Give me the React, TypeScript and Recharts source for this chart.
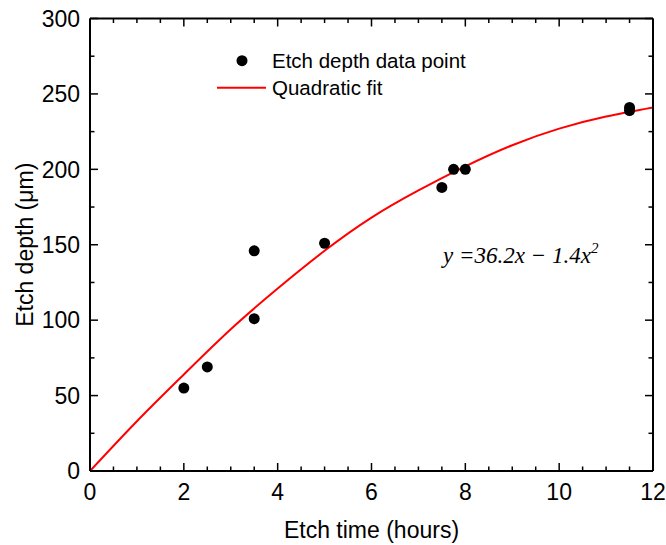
import React from 'react';
import { ComposedChart, Scatter, Line, XAxis, YAxis, Legend } from 'recharts';

// measured points
const etchTime = [2, 2.5, 3.5, 3.5, 5, 7.5, 7.75, 8, 11.5, 11.5];
const etchDepth = [55, 69, 146, 101, 151, 188, 200, 200, 241, 239];

// fit curve at whole hours
const fitTime = [0, 1, 2, 3, 4, 5, 6, 7, 8, 9, 10, 11, 12];
const fitDepth = [0, 33, 64, 94, 121, 146, 168, 186, 202, 216, 227, 235, 241];

const xTicks = [0, 0.5, 1, 1.5, 2, 2.5, 3, 3.5, 4, 4.5, 5, 5.5, 6, 6.5, 7, 7.5, 8, 8.5, 9, 9.5, 10, 10.5, 11, 11.5, 12];
const yTicks = [0, 25, 50, 75, 100, 125, 150, 175, 200, 225, 250, 275, 300];
const xLabels = [0, 2, 4, 6, 8, 10, 12];
const yLabels = [0, 50, 100, 150, 200, 250, 300];

const points = etchTime.map((x, i) => ({ x, y: etchDepth[i] }));
const fit = fitTime.map((x, i) => ({ x, y: fitDepth[i] }));

const FONT = "'Liberation Sans', Arial, sans-serif";

const tickLen = (major: boolean) => (major ? 8 : 4.5);

const BottomTick = ({ x, y, payload }: any) => {
  const major = xLabels.includes(payload.value);
  return (
    <g>
      <line x1={x} y1={y} x2={x} y2={y - tickLen(major)} stroke="#000" strokeWidth={1.5} />
      {major && (
        <text x={x} y={y + 29} textAnchor="middle" fontSize={23} fontFamily={FONT} fill="#000">
          {payload.value}
        </text>
      )}
    </g>
  );
};

const TopTick = ({ x, y, payload }: any) => {
  const major = xLabels.includes(payload.value);
  return <line x1={x} y1={y} x2={x} y2={y + tickLen(major)} stroke="#000" strokeWidth={1.5} />;
};

const LeftTick = ({ x, y, payload }: any) => {
  const major = yLabels.includes(payload.value);
  return (
    <g>
      <line x1={x} y1={y} x2={x + tickLen(major)} y2={y} stroke="#000" strokeWidth={1.5} />
      {major && (
        <text x={x - 10} y={y + 8.3} textAnchor="end" fontSize={23} fontFamily={FONT} fill="#000">
          {payload.value}
        </text>
      )}
    </g>
  );
};

const RightTick = ({ x, y, payload }: any) => {
  const major = yLabels.includes(payload.value);
  return <line x1={x} y1={y} x2={x - tickLen(major)} y2={y} stroke="#000" strokeWidth={1.5} />;
};

const LegendBox = ({ payload }: any) => (
  <svg width={280} height={64} style={{ overflow: 'visible' }}>
    {(payload || [])
      .filter((entry: any) => entry.type !== 'none')
      .map((entry: any, i: number) => {
        const cy = 13.7 + i * 27;
        return (
          <g key={entry.value}>
            {entry.type === 'circle' ? (
              <circle cx={27} cy={cy} r={5.5} fill="#000" />
            ) : (
              <line x1={2} x2={51} y1={cy} y2={cy} stroke="#ff0000" strokeWidth={2} />
            )}
            <text x={57} y={cy + 7.3} fontSize={20.5} fontFamily={FONT} fill="#000">
              {entry.value}
            </text>
          </g>
        );
      })}
  </svg>
);

export default function App() {
  return (
    <div style={{ position: 'absolute', left: 0, top: 0, width: 666, height: 545, background: '#fff' }}>
      <ComposedChart width={666} height={545} margin={{ top: 17.5, right: 12, bottom: 0, left: 20 }}>
        <XAxis
          xAxisId="bottom"
          dataKey="x"
          type="number"
          domain={[0, 12]}
          ticks={xTicks}
          interval={0}
          tickSize={0}
          tickMargin={0}
          tickLine={false}
          tick={BottomTick}
          height={74}
          axisLine={{ stroke: '#000', strokeWidth: 2 }}
          allowDataOverflow
          label={(p: any) => {
            const vb = p.viewBox;
            return (
              <text x={vb.x + vb.width / 2} y={538} textAnchor="middle" fontSize={23} fontFamily={FONT} fill="#000">
                Etch time (hours)
              </text>
            );
          }}
        />
        <XAxis
          xAxisId="top"
          orientation="top"
          dataKey="x"
          type="number"
          domain={[0, 12]}
          ticks={xTicks}
          interval={0}
          tickSize={0}
          tickMargin={0}
          tickLine={false}
          tick={TopTick}
          height={1}
          axisLine={{ stroke: '#000', strokeWidth: 2 }}
          allowDataOverflow
        />
        <YAxis
          yAxisId="left"
          type="number"
          domain={[0, 300]}
          ticks={yTicks}
          interval={0}
          tickSize={0}
          tickMargin={0}
          tickLine={false}
          tick={LeftTick}
          width={70}
          axisLine={{ stroke: '#000', strokeWidth: 2 }}
          allowDataOverflow
          label={(p: any) => {
            const vb = p.viewBox;
            const cx = vb.x + 5;
            const cy = vb.y + vb.height / 2;
            return (
              <text
                x={cx}
                y={cy}
                transform={`rotate(-90, ${cx}, ${cy})`}
                textAnchor="middle"
                dominantBaseline="central"
                fontSize={23}
                fontFamily={FONT}
                fill="#000"
              >
                Etch depth (μm)
              </text>
            );
          }}
        />
        <YAxis
          yAxisId="right"
          orientation="right"
          type="number"
          domain={[0, 300]}
          ticks={yTicks}
          interval={0}
          tickSize={0}
          tickMargin={0}
          tickLine={false}
          tick={RightTick}
          width={1}
          axisLine={{ stroke: '#000', strokeWidth: 2 }}
          allowDataOverflow
        />
        <Legend
          layout="vertical"
          align="center"
          verticalAlign="middle"
          wrapperStyle={{ left: 215, top: 47, width: 280, height: 64 }}
          content={LegendBox}
        />
        <Scatter
          name="Etch depth data point"
          data={points}
          dataKey="y"
          xAxisId="bottom"
          yAxisId="left"
          legendType="circle"
          isAnimationActive={false}
          shape={(p: any) => <circle cx={p.cx} cy={p.cy} r={5.5} fill="#000" />}
        />
        <Line
          name="Quadratic fit"
          data={fit}
          dataKey="y"
          xAxisId="bottom"
          yAxisId="left"
          type="natural"
          stroke="#ff0000"
          strokeWidth={2}
          dot={false}
          activeDot={false}
          legendType="line"
          isAnimationActive={false}
        />
        <Line
          data={fit}
          dataKey="y"
          xAxisId="top"
          yAxisId="right"
          stroke="none"
          dot={false}
          activeDot={false}
          legendType="none"
          isAnimationActive={false}
        />
      </ComposedChart>
      <div
        style={{
          position: 'absolute',
          left: 443,
          top: 244,
          fontFamily: "'Liberation Serif', 'Times New Roman', serif",
          fontStyle: 'italic',
          fontSize: 23,
          lineHeight: '23px',
          whiteSpace: 'pre',
          color: '#000',
        }}
      >
        y =36.2x − 1.4x
        <sup style={{ fontSize: 15, lineHeight: 0, verticalAlign: 0, position: 'relative', top: -10 }}>2</sup>
      </div>
    </div>
  );
}
